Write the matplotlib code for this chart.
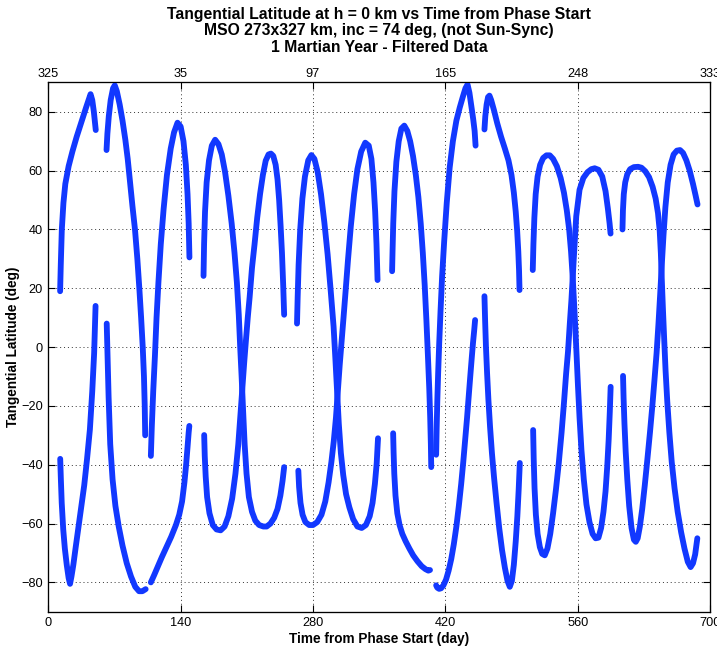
import matplotlib
matplotlib.use('Agg')
import matplotlib.pyplot as plt

plt.rcParams['font.family'] = ['Liberation Sans', 'DejaVu Sans']

# ---------------- data (day, tangential latitude in deg) ----------------
p1_up_day = [12.5, 13.2, 14.3, 16.0, 18.0, 21.5, 25.5, 30.0, 35.0, 40.0, 44.7, 46.5, 48.2, 50.2]
p1_up_lat = [19.0, 28.0, 40.0, 49.0, 55.5, 61.5, 66.5, 71.5, 76.5, 81.5, 86.0, 84.0, 80.0, 73.8]
p1_lo_day = [12.6, 13.3, 14.2, 15.8, 17.5, 19.5, 21.5, 23.0, 24.5, 26.5, 29.0, 32.0, 35.0, 38.0, 41.0, 44.0, 46.5, 48.5, 50.0]
p1_lo_lat = [-38.0, -45.0, -53.0, -62.0, -68.5, -74.0, -78.5, -80.5, -78.0, -74.0, -68.0, -61.0, -54.0, -47.0, -38.0, -28.0, -15.0, -2.0, 14.0]

p2_up_day = [61.6, 62.5, 64.0, 66.0, 68.5, 70.3, 72.5, 75.5, 78.5, 81.5, 84.0, 86.5, 89.0, 91.7, 94.2, 96.3, 98.2, 99.9, 101.2, 102.0, 102.5]
p2_up_lat = [67.0, 72.5, 78.5, 84.0, 88.0, 89.0, 87.0, 82.5, 77.0, 70.5, 64.0, 56.0, 48.0, 40.0, 30.0, 20.0, 10.0, 0.0, -10.0, -20.0, -30.0]
p2_lo_day = [61.8, 62.6, 63.8, 65.5, 68.0, 71.0, 74.5, 78.5, 83.0, 87.5, 92.0, 96.0, 99.5, 103.0]
p2_lo_lat = [8.0, -2.0, -17.0, -33.0, -45.0, -54.0, -61.0, -67.5, -73.5, -78.0, -81.5, -83.0, -83.0, -82.3]

p3_up_day = [108.5, 109.5, 111.0, 112.8, 114.5, 116.5, 119.0, 122.0, 125.5, 129.5, 133.0, 136.7, 140.0, 143.0, 145.5, 147.3, 148.5, 149.3]
p3_up_lat = [-37.0, -27.0, -15.0, -3.0, 10.0, 22.0, 35.0, 47.0, 58.5, 67.5, 73.0, 76.3, 75.0, 70.0, 62.0, 52.0, 42.0, 30.5]
p3_lo_day = [108.5, 112.0, 116.0, 120.0, 125.0, 130.0, 135.0, 138.5, 141.5, 144.0, 145.8, 147.3, 148.5, 149.2]
p3_lo_lat = [-80.0, -77.5, -74.5, -71.5, -68.0, -64.5, -60.5, -57.0, -52.5, -46.0, -40.0, -34.0, -29.0, -26.8]

p4_up_day = [164.2, 164.8, 165.8, 167.5, 170.0, 173.0, 176.5, 180.0, 183.5, 187.0, 190.5, 194.0, 197.0, 199.5, 201.5, 203.0, 204.5, 206.0, 207.7, 209.7, 212.2, 215.5, 219.0, 223.0, 227.5, 231.0, 235.0, 239.0, 242.5, 245.5, 247.8, 249.5]
p4_up_lat = [24.2, 35.0, 46.0, 56.0, 63.5, 68.5, 70.5, 69.0, 65.5, 59.5, 51.5, 42.0, 32.0, 22.0, 11.0, 0.0, -10.0, -21.0, -33.0, -43.0, -51.0, -56.0, -59.0, -60.5, -61.0, -61.0, -60.0, -58.0, -55.0, -50.5, -45.5, -40.8]
p4_lo_day = [164.9, 165.5, 166.5, 168.0, 170.5, 174.0, 178.0, 182.3, 186.5, 190.5, 194.5, 198.0, 201.0, 203.5, 205.5, 207.3, 209.0, 211.0, 213.0, 215.5, 218.2, 221.0, 224.0, 227.0, 230.0, 233.0, 235.5, 238.0, 240.5, 242.5, 244.2, 245.8, 247.2, 248.5, 249.5]
p4_lo_lat = [-29.9, -37.0, -44.0, -51.0, -56.5, -60.5, -62.0, -62.3, -61.0, -57.5, -51.5, -43.0, -33.0, -22.0, -13.0, -5.0, 2.0, 10.0, 17.0, 27.0, 35.0, 44.0, 52.0, 58.5, 63.4, 65.5, 65.8, 65.0, 62.0, 57.0, 50.0, 41.0, 32.0, 21.0, 11.0]

p5_up_day = [263.1, 263.8, 264.8, 266.5, 268.8, 271.5, 275.0, 278.3, 281.5, 285.0, 288.5, 292.0, 295.5, 298.8, 301.8, 303.7, 305.5, 307.3, 309.5, 312.0, 315.0, 318.5, 322.5, 327.0, 331.5, 336.0, 340.0, 343.0, 345.5, 347.4, 348.8]
p5_up_lat = [8.0, 17.0, 28.0, 40.0, 50.5, 58.0, 63.5, 65.3, 64.0, 59.5, 52.0, 42.5, 31.5, 19.0, 7.0, -4.0, -15.0, -26.0, -36.0, -43.5, -50.0, -54.5, -58.5, -61.0, -61.5, -60.5, -57.5, -53.0, -46.5, -39.5, -31.0]
p5_lo_day = [264.5, 265.3, 266.8, 269.0, 272.0, 276.0, 280.0, 284.5, 289.0, 293.0, 296.5, 299.5, 302.0, 304.3, 306.3, 308.3, 310.3, 312.3, 314.5, 317.0, 320.0, 323.5, 327.0, 331.0, 335.3, 339.0, 341.8, 344.0, 345.8, 347.2, 348.3]
p5_lo_lat = [-42.0, -47.5, -53.0, -57.0, -59.5, -60.5, -60.5, -59.5, -57.0, -52.5, -46.0, -39.0, -32.0, -24.0, -15.0, -6.0, 2.0, 10.0, 19.0, 29.5, 41.0, 52.0, 60.5, 66.5, 69.5, 68.5, 64.0, 56.0, 46.0, 35.0, 22.8]

p6_up_day = [363.7, 364.2, 364.9, 366.2, 368.2, 370.7, 373.5, 376.6, 379.8, 382.8, 385.8, 388.8, 391.5, 394.0, 396.2, 398.2, 400.0, 401.6, 403.0, 404.0, 404.7, 405.1]
p6_up_lat = [25.8, 33.0, 42.0, 53.0, 63.0, 70.0, 74.3, 75.3, 73.5, 70.0, 65.0, 58.5, 51.0, 42.0, 32.0, 21.0, 9.0, -3.0, -14.0, -24.0, -33.0, -40.8]
p6_lo_day = [364.8, 365.3, 366.0, 367.3, 369.2, 371.6, 374.5, 378.0, 382.0, 386.0, 390.5, 395.0, 399.0, 402.0, 403.8]
p6_lo_lat = [-29.3, -36.0, -43.0, -50.5, -56.5, -60.5, -63.5, -66.0, -68.5, -70.8, -72.8, -74.5, -75.5, -76.0, -75.8]

p7_up_day = [410.3, 410.8, 411.5, 412.4, 413.5, 414.9, 416.6, 418.8, 421.5, 424.6, 428.0, 431.7, 435.3, 438.7, 441.3, 443.5, 445.5, 447.5, 449.5, 451.0, 452.0]
p7_up_lat = [-36.6, -28.0, -18.5, -9.0, 1.0, 12.0, 24.0, 36.0, 49.0, 61.0, 70.0, 77.0, 81.5, 85.3, 88.0, 89.3, 86.5, 82.0, 77.5, 73.5, 68.5]
p7_lo_day = [410.3, 411.5, 413.5, 415.5, 418.0, 420.8, 423.5, 426.3, 429.0, 431.7, 434.3, 436.8, 439.0, 441.0, 443.0, 444.8, 446.5, 448.0, 449.3, 450.5, 451.5]
p7_lo_lat = [-81.0, -81.8, -82.2, -82.0, -81.0, -79.0, -76.0, -72.0, -67.0, -61.0, -54.0, -46.5, -39.0, -31.5, -24.0, -16.5, -9.5, -3.5, 1.5, 5.5, 9.2]

p8_up_day = [461.4, 462.3, 463.7, 465.2, 466.7, 468.5, 471.5, 475.0, 479.0, 483.0, 486.8, 490.0, 492.5, 494.5, 496.0, 497.2, 498.0, 498.5]
p8_up_lat = [74.0, 78.5, 82.5, 85.0, 85.5, 84.0, 80.5, 76.0, 71.5, 67.5, 63.5, 58.5, 52.5, 46.0, 39.5, 32.5, 26.0, 19.4]
p8_lo_day = [461.4, 462.1, 463.0, 464.2, 465.6, 467.3, 469.3, 471.6, 474.2, 477.0, 480.0, 483.0, 485.8, 488.2, 490.4, 492.5, 494.5, 496.2, 497.6, 498.8]
p8_lo_lat = [17.3, 9.0, 0.0, -9.0, -18.0, -27.0, -36.0, -44.5, -53.0, -61.5, -69.0, -75.0, -79.5, -81.5, -79.5, -74.0, -66.0, -57.5, -48.5, -39.4]

p9_up_day = [512.5, 513.2, 514.2, 515.6, 517.6, 520.3, 523.5, 527.0, 530.5, 534.0, 538.0, 542.0, 545.5, 548.5, 551.0, 553.0, 554.7, 556.2, 557.6, 558.9, 560.3, 562.0, 564.0, 566.5, 569.3, 572.5, 575.8, 579.0, 582.0, 584.8, 587.3, 589.5, 591.3, 592.8, 594.0, 594.9]
p9_up_lat = [26.2, 35.0, 44.0, 52.0, 58.0, 62.0, 64.3, 65.2, 65.2, 64.0, 61.5, 57.5, 52.5, 46.5, 40.0, 32.5, 24.0, 15.0, 6.0, -3.0, -13.0, -24.0, -35.0, -45.0, -53.5, -59.5, -63.5, -65.0, -64.8, -61.5, -56.0, -49.0, -40.5, -31.5, -22.0, -13.5]
p9_lo_day = [512.9, 513.5, 514.4, 515.8, 517.6, 520.0, 522.5, 525.2, 528.0, 531.0, 534.0, 537.0, 540.0, 543.0, 545.5, 547.8, 549.8, 551.7, 553.4, 555.0, 556.5, 558.5, 562.0, 566.0, 570.5, 574.5, 578.0, 582.0, 586.0, 589.5, 592.0, 593.8, 594.8]
p9_lo_lat = [-28.2, -38.0, -48.0, -57.0, -63.5, -68.0, -70.3, -70.8, -68.5, -63.5, -56.5, -48.5, -39.5, -29.0, -19.0, -9.0, -1.5, 8.0, 16.0, 25.0, 33.5, 44.5, 53.5, 57.5, 59.5, 60.5, 60.8, 60.3, 58.0, 53.0, 47.0, 42.0, 38.6]

p10_up_day = [607.4, 607.9, 608.8, 610.3, 612.5, 615.5, 619.5, 624.0, 627.5, 631.5, 635.5, 639.3, 642.5, 645.0, 646.8, 648.0, 649.0, 650.2, 651.5, 653.0, 654.8, 657.0, 659.5, 662.5, 665.8, 669.5, 673.0, 676.5, 679.5, 682.0, 684.3, 686.6]
p10_up_lat = [40.0, 46.5, 52.0, 56.0, 58.8, 60.5, 61.2, 61.3, 61.0, 59.8, 57.8, 54.5, 50.5, 45.5, 39.5, 32.0, 23.0, 13.0, 3.0, -8.0, -18.5, -29.0, -39.0, -48.0, -56.0, -63.0, -68.5, -73.0, -74.8, -73.5, -70.5, -65.0]
p10_lo_day = [608.0, 608.6, 609.5, 610.8, 612.5, 614.5, 617.0, 619.5, 621.5, 623.5, 625.8, 628.3, 631.0, 633.8, 636.5, 639.0, 641.3, 643.5, 645.5, 647.3, 649.0, 650.8, 652.8, 655.3, 658.3, 661.5, 665.0, 668.3, 671.5, 675.0, 678.5, 682.0, 684.8, 686.8]
p10_lo_lat = [-9.8, -17.5, -26.0, -35.5, -45.0, -54.0, -61.5, -65.5, -66.2, -65.0, -61.0, -55.0, -47.0, -38.0, -29.0, -20.0, -11.0, -2.0, 8.0, 18.0, 28.0, 38.0, 47.5, 56.0, 62.0, 65.5, 66.8, 67.0, 66.0, 63.5, 60.0, 55.5, 51.5, 48.5]

x_ticks = [0, 140, 280, 420, 560, 700]
top_tick_labels = ['325', '35', '97', '165', '248', '333']
y_ticks = [-80, -60, -40, -20, 0, 20, 40, 60, 80]

segments = [
    (p1_up_day, p1_up_lat), (p1_lo_day, p1_lo_lat),
    (p2_up_day, p2_up_lat), (p2_lo_day, p2_lo_lat),
    (p3_up_day, p3_up_lat), (p3_lo_day, p3_lo_lat),
    (p4_up_day, p4_up_lat), (p4_lo_day, p4_lo_lat),
    (p5_up_day, p5_up_lat), (p5_lo_day, p5_lo_lat),
    (p6_up_day, p6_up_lat), (p6_lo_day, p6_lo_lat),
    (p7_up_day, p7_up_lat), (p7_lo_day, p7_lo_lat),
    (p8_up_day, p8_up_lat), (p8_lo_day, p8_lo_lat),
    (p9_up_day, p9_up_lat), (p9_lo_day, p9_lo_lat),
    (p10_up_day, p10_up_lat), (p10_lo_day, p10_lo_lat),
]

# ---------------- figure ----------------
W, H = 717, 649
fig = plt.figure(figsize=(W / 100, H / 100), dpi=100)
L, R, T, B = 48.3, 710.0, 82.4, 611.8
ax = fig.add_axes([L / W, 1 - B / H, (R - L) / W, (B - T) / H])

color = '#1238ff'
for d, v in segments:
    ax.plot(d, v, color=color, lw=4.2, solid_capstyle='round',
            solid_joinstyle='round', zorder=3)

ax.set_xlim(0, 700)
ax.set_ylim(-90, 90)
ax.set_xticks(x_ticks)
ax.set_yticks(y_ticks)
ax.grid(True, color='#333333', linestyle=(0, (1, 3)), linewidth=0.7)
ax.tick_params(direction='in', length=5, width=0.8, labelsize=9.2,
               top=False, right=True, pad=4)
for s in ax.spines.values():
    s.set_linewidth(0.9)
    s.set_color('#222222')

ax2 = ax.twiny()
ax2.set_xlim(0, 700)
ax2.set_xticks(x_ticks)
ax2.set_xticklabels(top_tick_labels)
ax2.tick_params(direction='in', length=5, width=0.8, labelsize=9.2, pad=2)

ax.set_xlabel('Time from Phase Start (day)', fontsize=9.8, fontweight='bold', labelpad=2)
ax.set_ylabel('Tangential Latitude (deg)', fontsize=9.8, fontweight='bold', labelpad=1)

cx = (L + R) / 2 / W
fig.text(cx, 1 - 14 / H, 'Tangential Latitude at h = 0 km vs Time from Phase Start',
         ha='center', va='center', fontsize=11.3, fontweight='bold')
fig.text(cx, 1 - 31 / H, 'MSO 273x327 km, inc = 74 deg, (not Sun-Sync)',
         ha='center', va='center', fontsize=11.3, fontweight='bold')
fig.text(cx, 1 - 47.5 / H, '1 Martian Year - Filtered Data',
         ha='center', va='center', fontsize=11.3, fontweight='bold')

fig.savefig('out.png', dpi=100)
